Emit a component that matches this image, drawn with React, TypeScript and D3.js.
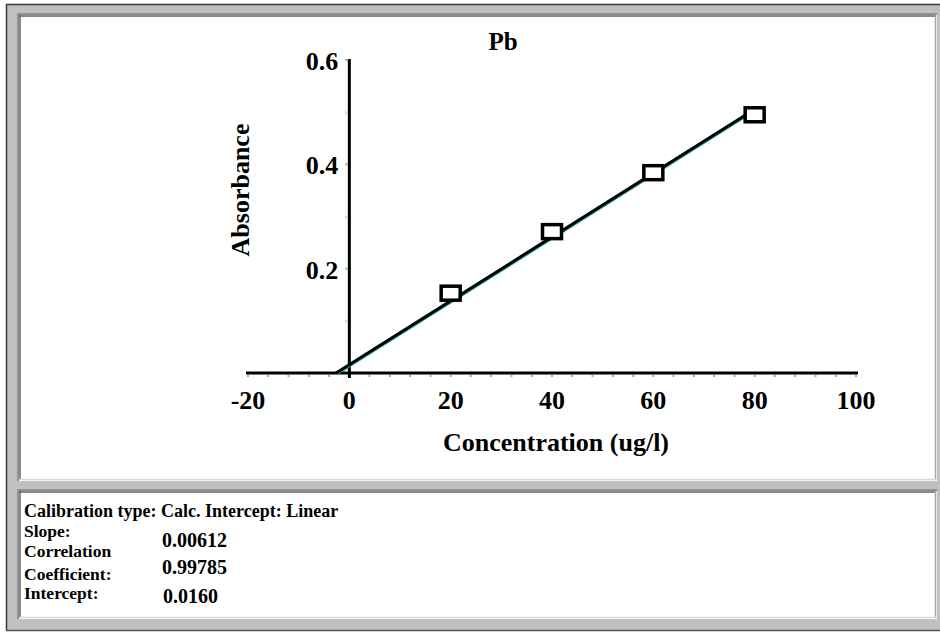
import React from 'react';
import * as d3 from 'd3';

// calibration standards (ug/l) and measured absorbance
const concentrations = [20, 40, 60, 80];
const absorbances = [0.153, 0.271, 0.384, 0.495];

const xTicks = [-20, 0, 20, 40, 60, 80, 100];
const yTicks = [0.2, 0.4, 0.6];
const xMinorTicks = d3.range(-20, 101, 4);
const yMinorTicks = [0.1, 0.3, 0.5];

const slope = 0.00612;
const intercept = 0.016;
const correlation = 0.99785;

const FONT = '"Liberation Serif", "Times New Roman", serif';

function App() {
  const width = 940;
  const height = 632;

  const x = d3.scaleLinear().domain([-20, 100]).range([248, 856]);
  const y = d3.scaleLinear().domain([0, 0.6]).range([373, 60]);

  const fitStart = -intercept / slope;
  const fitEnd = concentrations[concentrations.length - 1];
  const fitLine = d3.line<number>()
    .x(d => x(d))
    .y(d => y(slope * d + intercept));
  const fitPath = fitLine([fitStart, fitEnd]) || '';

  return (
    <div style={{ position: 'fixed', left: 0, top: 0 }}>
      <svg width={width} height={height} style={{ display: 'block', background: '#fff' }}>
        {/* outer window frame */}
        <rect x={6} y={4} width={940} height={626} fill="#c0c0c0" />
        <line x1={6} y1={4.5} x2={940} y2={4.5} stroke="#3a3a3a" strokeWidth={1.5} />
        <line x1={6.5} y1={4} x2={6.5} y2={630} stroke="#3a3a3a" strokeWidth={1.5} />
        <line x1={6} y1={630.5} x2={940} y2={630.5} stroke="#555" strokeWidth={1.5} />

        {/* chart panel */}
        <rect x={17} y={13} width={920} height={468} fill="#fff" />
        <line x1={17} y1={14} x2={937} y2={14} stroke="#909090" strokeWidth={2} />
        <line x1={18} y1={13} x2={18} y2={481} stroke="#909090" strokeWidth={2} />
        <line x1={19} y1={16} x2={936} y2={16} stroke="#606060" strokeWidth={1.5} />
        <line x1={20} y1={15} x2={20} y2={480} stroke="#606060" strokeWidth={1.5} />
        <line x1={935.5} y1={15} x2={935.5} y2={480} stroke="#a8a8a8" strokeWidth={1.5} />
        <line x1={19} y1={479.5} x2={936} y2={479.5} stroke="#d8d8d8" strokeWidth={1.5} />

        {/* stats panel */}
        <rect x={17} y={489} width={920} height={130} fill="#fff" />
        <line x1={17} y1={490} x2={937} y2={490} stroke="#909090" strokeWidth={2} />
        <line x1={18} y1={489} x2={18} y2={619} stroke="#909090" strokeWidth={2} />
        <line x1={19} y1={492} x2={936} y2={492} stroke="#606060" strokeWidth={1.5} />
        <line x1={20} y1={491} x2={20} y2={618} stroke="#606060" strokeWidth={1.5} />
        <line x1={935.5} y1={491} x2={935.5} y2={618} stroke="#a8a8a8" strokeWidth={1.5} />
        <line x1={19} y1={617.5} x2={936} y2={617.5} stroke="#d8d8d8" strokeWidth={1.5} />

        {/* minor ticks */}
        {xMinorTicks.map(t => (
          <rect key={'xm' + t} x={x(t) - 1} y={375} width={2} height={2} fill="#3aa0a0" opacity={0.7} />
        ))}
        {yTicks.map(t => (
          <rect key={'ym' + t} x={x(0) - 4} y={y(t) - 1} width={2} height={2} fill="#3aa0a0" opacity={0.7} />
        ))}
        {yMinorTicks.map(t => (
          <rect key={'yn' + t} x={x(0) - 4} y={y(t) - 1} width={1} height={3} fill="#bbb" />
        ))}

        {/* axes */}
        <line x1={x(-20) - 2} y1={y(0)} x2={x(100) + 2} y2={y(0)} stroke="#000" strokeWidth={3} />
        <line x1={x(0)} y1={y(0.6) - 1} x2={x(0)} y2={y(0) + 5} stroke="#000" strokeWidth={3} />

        {/* tick labels */}
        {xTicks.map(t => (
          <text key={'xt' + t} x={x(t)} y={409} textAnchor="middle" fontFamily={FONT}
            fontWeight="bold" fontSize={26} fill="#000">{t}</text>
        ))}
        {yTicks.map(t => (
          <text key={'yt' + t} x={x(0) - 11} y={y(t) + 10} textAnchor="end" fontFamily={FONT}
            fontWeight="bold" fontSize={26} fill="#000">{t.toFixed(1)}</text>
        ))}

        {/* fitted line */}
        <path d={fitPath} transform="translate(0.5,1.5)" fill="none" stroke="#1f9e9e" strokeWidth={2} />
        <path d={fitPath} fill="none" stroke="#000" strokeWidth={3} />

        {/* standards */}
        {concentrations.map((c, i) => (
          <rect key={'pt' + c} x={x(c) - 9.5} y={y(absorbances[i]) - 7} width={19} height={14}
            fill="#fff" stroke="#000" strokeWidth={3.5} />
        ))}

        {/* titles */}
        <text x={503} y={50} textAnchor="middle" fontFamily={FONT} fontWeight="bold" fontSize={25}>Pb</text>
        <text transform="translate(249,190) rotate(-90)" textAnchor="middle" fontFamily={FONT}
          fontWeight="bold" fontSize={26}>Absorbance</text>
        <text x={556} y={451} textAnchor="middle" fontFamily={FONT} fontWeight="bold" fontSize={26}>
          Concentration (ug/l)
        </text>

        {/* calibration summary */}
        <g fontFamily={FONT} fontWeight="bold" fill="#000">
          <text x={24} y={517} fontSize={18}>Calibration type: Calc. Intercept: Linear</text>
          <text x={24} y={537} fontSize={17.5}>Slope:</text>
          <text x={24} y={557} fontSize={17.5}>Correlation</text>
          <text x={24} y={580} fontSize={17.5}>Coefficient:</text>
          <text x={24} y={599} fontSize={17.5}>Intercept:</text>
          <text x={162} y={547} fontSize={20}>{slope.toFixed(5)}</text>
          <text x={162} y={574} fontSize={20}>{correlation.toFixed(5)}</text>
          <text x={163} y={603} fontSize={20}>{intercept.toFixed(4)}</text>
        </g>
      </svg>
    </div>
  );
}

export default App;
